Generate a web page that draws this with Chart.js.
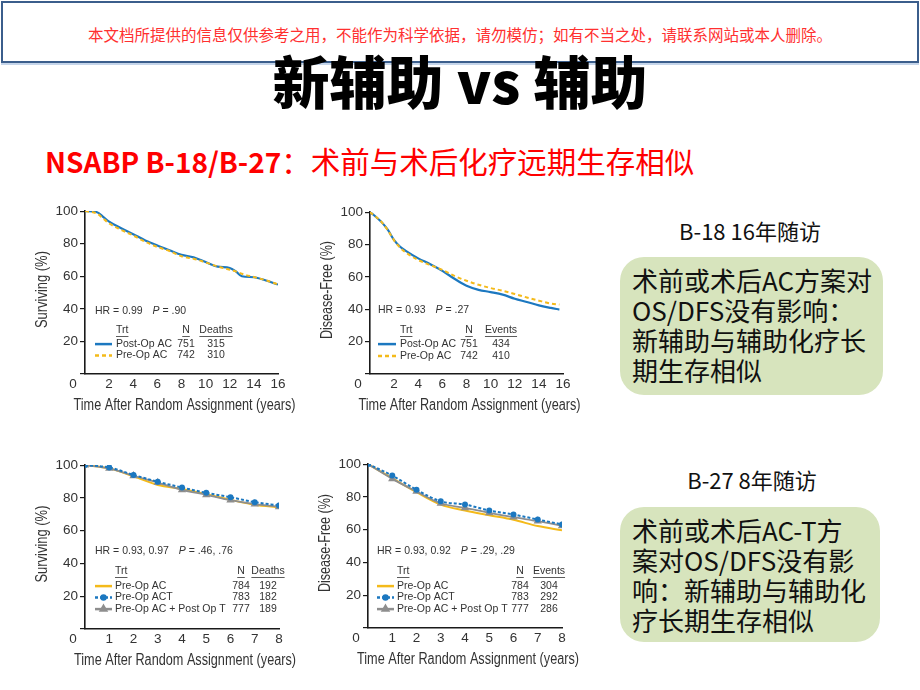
<!DOCTYPE html>
<html>
<head>
<meta charset="utf-8">
<script src="https://cdn.jsdelivr.net/npm/chart.js@4.4.1/dist/chart.umd.min.js"></script>
<style>
  body { margin: 0; width: 920px; height: 690px; background: #fff; position: relative; overflow: hidden;
         font-family: 'Noto Sans CJK SC', sans-serif; }
  .note { position: absolute; left: 1px; top: 1px; width: 914px; height: 58px; border: 2px solid #3B5E8C;
          box-shadow: 0 2px 0 #C5D5EA; }
  .note span { position: absolute; left: 0; right: 0; top: 21px; text-align: center; color: #FF3030;
               font-size: 15.5px; line-height: 20px; }
  h1 { position: absolute; left: 0; right: 0; top: 46px; margin: 0; text-align: center; font-size: 57px;
       font-weight: 900; line-height: 66px; color: #000; z-index: 2; }
  h2 { position: absolute; left: 45px; top: 141px; margin: 0; font-size: 29.5px; font-weight: 400;
       line-height: 38px; color: #FF0000; white-space: nowrap; }
  h2 b { font-weight: 700; font-size: 28px; }
  canvas { position: absolute; }
  .lbl { position: absolute; width: 240px; text-align: center; font-size: 22px; line-height: 30px; color: #111; }
  .box { position: absolute; background: #D7E4BD; border-radius: 24px; box-sizing: border-box;
         padding: 8px 0 0 12px; font-size: 26px; line-height: 30px; color: #111; white-space: nowrap; }
</style>
</head>
<body>
<div class="note"><span>本文档所提供的信息仅供参考之用，不能作为科学依据，请勿模仿；如有不当之处，请联系网站或本人删除。</span></div>
<h1>新辅助 vs 辅助</h1>
<h2><b>NSABP B-18/B-27</b>：术前与术后化疗远期生存相似</h2>

<canvas id="c1" width="274" height="215" style="left:30px;top:201px"></canvas>
<canvas id="c2" width="274" height="214" style="left:315px;top:202px"></canvas>
<canvas id="c3" width="275" height="216" style="left:30px;top:455px"></canvas>
<canvas id="c4" width="275" height="216" style="left:313px;top:454px"></canvas>

<div class="lbl" style="left:630px;top:215px">B-18 16年随访</div>
<div class="box" style="left:620px;top:257px;width:263px;height:138px">术前或术后AC方案对<br>OS/DFS没有影响：<br>新辅助与辅助化疗长<br>期生存相似</div>
<div class="lbl" style="left:632px;top:464px">B-27 8年随访</div>
<div class="box" style="left:620px;top:507px;width:260px;height:135px">术前或术后AC-T方<br>案对OS/DFS没有影<br>响：新辅助与辅助化<br>疗长期生存相似</div>

<script>
// B-18 overall survival (years, % surviving)
const b18OsYears = [0, 1, 1.5, 2, 3, 4, 5, 6, 7, 8, 9, 10, 11, 12, 12.5, 13, 14, 15, 16];
const b18OsPost = [100, 99.3, 96.5, 93.5, 89.5, 85.8, 82, 78.9, 76, 73.2, 71.6, 68.7, 65.9, 65.1, 63, 60, 59.4, 57.4, 54.9];
const b18OsPre  = [100, 98.5, 95.5, 92.5, 88.5, 85, 81.2, 78, 75.5, 72.3, 70.8, 68.5, 66, 64, 63, 61.5, 59.5, 57.5, 55];

// B-18 disease-free survival
const b18DfsYears = [0, 0.5, 1, 1.5, 2, 2.5, 3, 4, 5, 6, 7, 8, 9, 10, 11, 12, 13, 14, 15, 15.7];
const b18DfsPost = [100, 97, 93.5, 88.8, 82.7, 78.6, 75.9, 71.4, 67.8, 63.7, 58.8, 54.5, 52, 50.6, 49, 46.5, 44.5, 42.4, 40.8, 39.8];
const b18DfsPre  = [100, 97, 93.5, 88.5, 82.5, 78, 74.9, 70.4, 67.3, 64.3, 60.6, 57.6, 55.1, 53.1, 51.4, 49.4, 47.3, 45.3, 43.5, 42.9];

// B-27, yearly
const b27Years = [0, 1, 2, 3, 4, 5, 6, 7, 8];
const b27OsAC   = [100, 98, 93.1, 87.9, 85.5, 82.3, 78.8, 75.8, 74.2];
const b27OsACT  = [100, 98.6, 94, 89.9, 86.3, 83.1, 80.4, 77.4, 75.4];
const b27OsACpT = [100, 98, 93.5, 89.3, 84.9, 81.9, 78.6, 76.2, 74.6];
const b27DfsAC   = [100, 91.4, 82.9, 75.3, 71.7, 68.8, 66, 62.2, 59.6];
const b27DfsACT  = [100, 93, 84.3, 77.3, 75.3, 71.7, 69.2, 66.2, 63.2];
const b27DfsACpT = [100, 91, 83.3, 76.1, 73.3, 70.3, 67.6, 65.2, 62.4];

// legend tables
const b18Arms = ['Post-Op AC', 'Pre-Op AC'];
const b18N = [751, 742];
const b18Deaths = [315, 310];
const b18Events = [434, 410];
const b27Arms = ['Pre-Op AC', 'Pre-Op ACT', 'Pre-Op AC + Post Op T'];
const b27N = [784, 783, 777];
const b27Deaths = [192, 182, 189];
const b27Events = [304, 292, 286];

const xTitle = 'Time After Random Assignment (years)';

const BLUE = '#1C78C0', YELLOW = '#F4BA1A', GRAY = '#8E8E8E', INK = '#333';
const TXFONT = "'Liberation Sans', Arial, sans-serif";

function pts(xs, ys) {
  return xs.map((x, i) => ({ x: x, y: ys[i] }));
}

// draws the HR line, the small Trt / N / Deaths table, both axis titles and the corner "0"
const tablePlugin = {
  id: 'table',
  afterDatasetsDraw(chart, args, o) {
    const ctx = chart.ctx, a = chart.chartArea;
    const f = (s) => s + ' 10.5px ' + TXFONT;
    ctx.save();
    ctx.fillStyle = INK;
    ctx.textBaseline = 'middle';
    ctx.textAlign = 'left';

    // HR = ..   P = ..
    let x = a.left + o.x, y = a.top + o.hrY;
    ctx.font = f('');
    const hr = 'HR = ' + o.hr;
    ctx.fillText(hr, x, y);
    x += ctx.measureText(hr).width + 10;
    ctx.font = f('italic');
    ctx.fillText('P', x, y);
    x += ctx.measureText('P').width;
    ctx.font = f('');
    ctx.fillText(' = ' + o.p, x, y);

    // headers, underlined
    const head = (txt, hx, align) => {
      ctx.textAlign = align;
      ctx.fillText(txt, hx, a.top + o.headY);
      const w = ctx.measureText(txt).width;
      const x0 = align === 'center' ? hx - w / 2 : hx;
      ctx.fillRect(x0, a.top + o.headY + 6, w, 0.8);
    };
    head('Trt', a.left + o.labelX, 'left');
    head('N', a.left + o.nX, 'center');
    head(o.evName, a.left + o.evX, 'center');

    o.arms.forEach((arm, i) => {
      const ds = chart.data.datasets[i];
      const ry = a.top + o.rowY + i * o.rowH;
      ctx.save();
      ctx.strokeStyle = ds.borderColor;
      ctx.lineWidth = 2.5;
      ctx.setLineDash(ds.borderDash || []);
      ctx.beginPath();
      ctx.moveTo(a.left + o.x, ry);
      ctx.lineTo(a.left + o.x + o.lineW, ry);
      ctx.stroke();
      ctx.setLineDash([]);
      if (ds.pointRadius) {
        ctx.fillStyle = ds.borderColor;
        Chart.helpers.drawPoint(ctx, { pointStyle: ds.pointStyle, radius: ds.pointRadius, rotation: 0, borderWidth: 1 },
          a.left + o.x + o.lineW / 2, ry);
      }
      ctx.restore();
      ctx.textAlign = 'left';
      ctx.fillText(arm, a.left + o.labelX, ry);
      ctx.textAlign = 'center';
      ctx.fillText(String(o.n[i]), a.left + o.nX, ry);
      ctx.fillText(String(o.ev[i]), a.left + o.evX, ry);
    });

    // axis titles in a squeezed (condensed-looking) face
    ctx.font = '16px ' + TXFONT;
    ctx.textAlign = 'center';
    ctx.fillText(xTitle, a.left + a.width / 2 + 3, a.bottom + 32, 222);
    ctx.save();
    ctx.translate(a.left - 42, a.top + a.height / 2 - 3);
    ctx.rotate(-Math.PI / 2);
    ctx.fillText(o.yTitle, 0, 0, o.yTitleW);
    ctx.restore();

    // shared origin label
    ctx.font = '13.5px ' + TXFONT;
    ctx.fillText('0', a.left - 12, a.bottom + 10);
    ctx.restore();
  }
};

function kmChart(id, xMax, xStep, datasets, table) {
  const tickFont = { family: TXFONT, size: 13.5 };
  new Chart(document.getElementById(id), {
    type: 'line',
    data: { datasets: datasets },
    options: {
      responsive: false,
      animation: false,
      events: [],
      layout: { padding: { top: 8, right: 26, left: 0, bottom: 0 } },
      elements: { line: { tension: 0.3, cubicInterpolationMode: 'monotone' } },
      plugins: { legend: { display: false }, tooltip: { enabled: false }, table: table },
      scales: {
        x: {
          type: 'linear', min: 0, max: xMax,
          ticks: { stepSize: xStep, font: tickFont, color: INK, padding: 2, maxRotation: 0, autoSkip: false,
                   callback: v => v === 0 ? '' : v },
          grid: { drawOnChartArea: false, drawTicks: false },
          border: { color: '#1a1a1a', width: 1.6 },
          afterFit: s => { s.height = 42; }
        },
        y: {
          min: 0, max: 100,
          ticks: { stepSize: 20, font: tickFont, color: INK, padding: 2, callback: v => v === 0 ? '' : v },
          grid: { drawOnChartArea: false, tickLength: 5, color: '#1a1a1a', lineWidth: 1.2 },
          border: { color: '#1a1a1a', width: 1.6 },
          afterFit: s => { s.width = 55; }
        }
      }
    },
    plugins: [tablePlugin]
  });
}

function b18Sets(post, pre, years) {
  return [
    { data: pts(years, post), borderColor: BLUE, borderWidth: 2.2, pointRadius: 0, order: 1 },
    { data: pts(years, pre), borderColor: YELLOW, borderWidth: 2, borderDash: [4, 3], pointRadius: 0, order: 0 }
  ];
}
function b27Sets(ac, act, acpt) {
  return [
    { data: pts(b27Years, ac), borderColor: YELLOW, borderWidth: 2, pointRadius: 0, order: 2 },
    { data: pts(b27Years, act), borderColor: BLUE, borderWidth: 2, borderDash: [3, 2], pointRadius: 2,
      pointStyle: 'circle', pointBackgroundColor: BLUE, pointBorderColor: BLUE, order: 0 },
    { data: pts(b27Years, acpt), borderColor: GRAY, borderWidth: 1.8, pointRadius: 3,
      pointStyle: 'triangle', pointBackgroundColor: GRAY, pointBorderColor: GRAY, order: 1 }
  ];
}

kmChart('c1', 16, 2, b18Sets(b18OsPost, b18OsPre, b18OsYears), {
  yTitle: 'Surviving (%)', yTitleW: 77,
  hr: '0.99', p: '.90', evName: 'Deaths', arms: b18Arms, n: b18N, ev: b18Deaths,
  x: 10, lineW: 17, labelX: 31, nX: 101, evX: 131, hrY: 100, headY: 119, rowY: 133, rowH: 11.5
});
kmChart('c2', 16, 2, b18Sets(b18DfsPost, b18DfsPre, b18DfsYears), {
  yTitle: 'Disease-Free (%)', yTitleW: 98,
  hr: '0.93', p: '.27', evName: 'Events', arms: b18Arms, n: b18N, ev: b18Events,
  x: 8, lineW: 18, labelX: 30, nX: 99, evX: 131, hrY: 98, headY: 118, rowY: 132, rowH: 12
});
kmChart('c3', 8, 1, b27Sets(b27OsAC, b27OsACT, b27OsACpT), {
  yTitle: 'Surviving (%)', yTitleW: 77,
  hr: '0.93, 0.97', p: '.46, .76', evName: 'Deaths', arms: b27Arms, n: b27N, ev: b27Deaths,
  x: 10, lineW: 17, labelX: 30, nX: 156, evX: 183, hrY: 86, headY: 106, rowY: 121, rowH: 11.5
});
kmChart('c4', 8, 1, b27Sets(b27DfsAC, b27DfsACT, b27DfsACpT), {
  yTitle: 'Disease-Free (%)', yTitleW: 98,
  hr: '0.93, 0.92', p: '.29, .29', evName: 'Events', arms: b27Arms, n: b27N, ev: b27Events,
  x: 9, lineW: 17, labelX: 29, nX: 152, evX: 181, hrY: 87, headY: 107, rowY: 122, rowH: 11.5
});
</script>
</body>
</html>
